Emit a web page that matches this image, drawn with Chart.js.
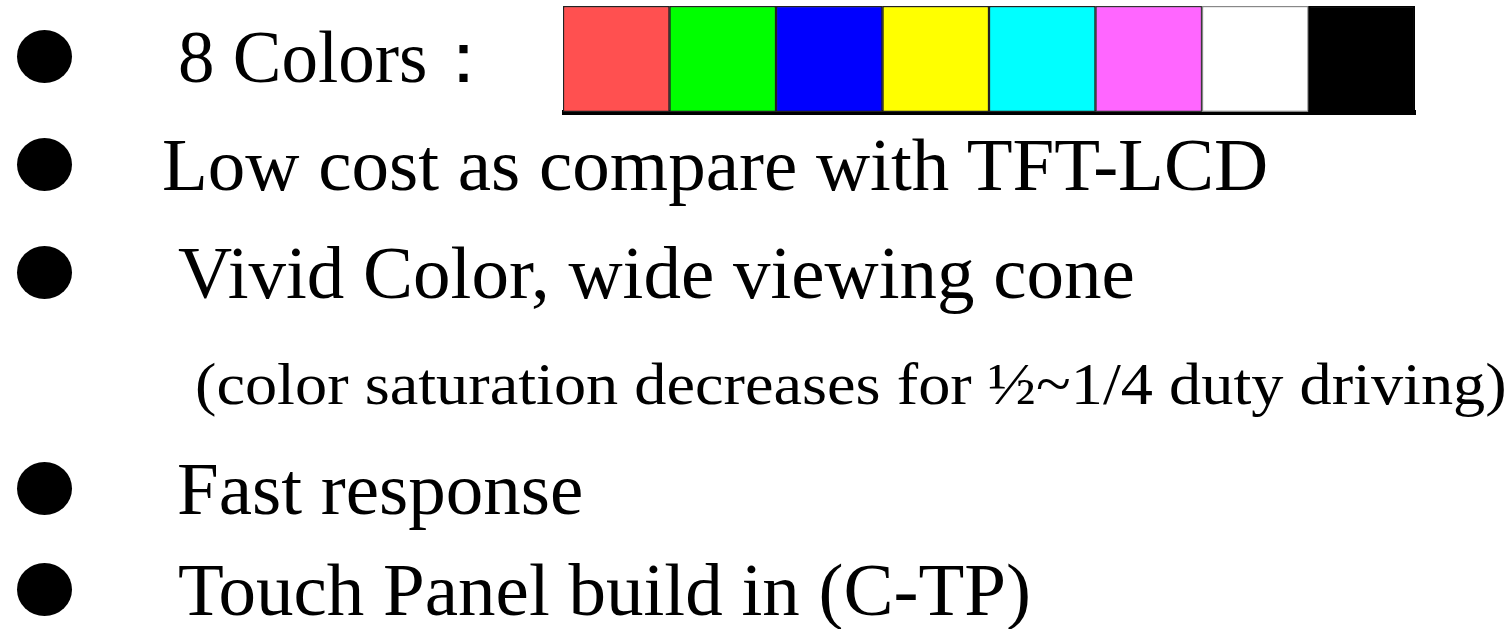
<!DOCTYPE html>
<html>
<head>
<meta charset="utf-8">
<script src="https://cdn.jsdelivr.net/npm/chart.js@4/dist/chart.umd.min.js"></script>
<style>
  html, body { margin: 0; padding: 0; background: #fff; }
  body { width: 1512px; height: 629px; position: relative; overflow: hidden; }
  .txt { position: absolute; font-family: 'Liberation Serif', 'Times New Roman', serif;
         color: #000; line-height: 1; white-space: nowrap; transform-origin: 0 0; }
  .dot { position: absolute; width: 55px; height: 53px; border-radius: 50%; background: #000; }
  #bar-wrap { position: absolute; left: 562px; top: 4px; width: 855px; height: 112px; }
</style>
</head>
<body>
<div id="bar-wrap"><canvas id="colorBar"></canvas></div>
<script>
/* ── 8 colour swatches ─────────────────────────────────────────── */
const swatchNames  = ['Red', 'Green', 'Blue', 'Yellow', 'Cyan', 'Magenta', 'White', 'Black'];
const swatchValues = [1, 1, 1, 1, 1, 1, 1, 1];
const swatchColors = ['#ff5050', '#00ff00', '#0000ff', '#ffff00', '#00ffff', '#ff66ff', '#ffffff', '#000000'];
const swatchEdges  = ['#222', '#222', '#222', '#222', '#222', '#333', '#888', '#000'];

/* ── bullet lines ──────────────────────────────────────────────── */
const lineTexts = [
  '8 Colors：',
  'Low cost as compare with TFT-LCD',
  'Vivid Color, wide viewing cone',
  '(color saturation decreases for ½~1/4 duty driving)',
  'Fast response',
  'Touch Panel build in (C-TP)',
];
const lineX        = [178, 162, 178, 195, 177, 178];
const lineBaseline = [82, 190, 298, 404, 514, 615];
const lineSize     = [73, 75, 75, 59, 75, 75];
const lineStretch  = [1, 1, 1, 1.09, 1, 1];
const lineBullet   = [true, true, true, false, true, true];

lineTexts.forEach((t, i) => {
  const fs = lineSize[i];
  const el = document.createElement('div');
  el.className = 'txt';
  el.textContent = t;
  el.style.fontSize = fs + 'px';
  el.style.left = lineX[i] + 'px';
  el.style.top = (lineBaseline[i] - 0.8375 * fs) + 'px';
  if (lineStretch[i] !== 1) el.style.transform = `scaleX(${lineStretch[i]})`;
  document.body.appendChild(el);
  if (lineBullet[i]) {
    const d = document.createElement('div');
    d.className = 'dot';
    d.style.left = '17px';
    d.style.top = (lineBaseline[i] - 52) + 'px';
    document.body.appendChild(d);
  }
});

new Chart(document.getElementById('colorBar'), {
  type: 'bar',
  data: {
    labels: swatchNames,
    datasets: [{
      data: swatchValues,
      backgroundColor: swatchColors,
      borderColor: swatchEdges,
      borderWidth: 1.5,
      borderSkipped: false,
      barPercentage: 1,
      categoryPercentage: 1,
    }],
  },
  options: {
    responsive: true,
    maintainAspectRatio: false,
    animation: false,
    layout: { padding: { top: 2, left: 1, right: 2, bottom: 4 } },
    plugins: { legend: { display: false }, tooltip: { enabled: false } },
    scales: {
      x: {
        offset: true,
        z: 1, // draw the thick base line on top of the swatches
        ticks: { display: false },
        grid: { display: false, drawTicks: false },
        border: { display: true, color: '#000', width: 5 },
      },
      y: {
        display: false,
        min: 0, max: 1,
      },
    },
  },
});
</script>
</body>
</html>
